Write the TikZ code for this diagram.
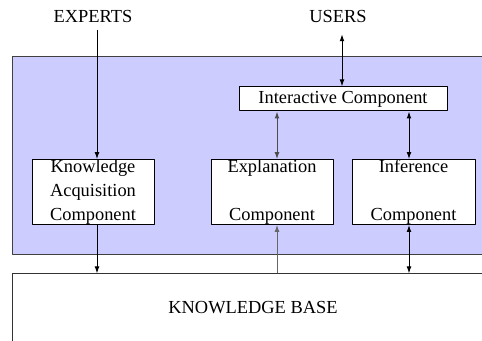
\documentclass[tikz,border=0pt]{standalone}
\usepackage{fontspec}
\setmainfont{Liberation Serif}
\usetikzlibrary{arrows.meta}
\definecolor{panelblue}{RGB}{204,204,255}
\begin{document}
\begin{tikzpicture}[x=.5pt, y=-.5pt, line join=round,
	font=\fontsize{9.2}{12}\selectfont,
	>={Latex[length=3.5pt,width=2.4pt]},
	comp/.style={draw=black, fill=white, line width=.5pt, align=center,
		minimum width=61pt, minimum height=32pt, inner sep=0pt},
	link/.style={line width=.5pt}]
	%% Khung
	\useasboundingbox (0,0) rectangle (482,341);
	\clip (0,0) rectangle (482,341);
	%% Vùng hệ chuyên gia
	\draw [fill=panelblue, draw=black!75, line width=.5pt] (12,57) rectangle (520,255);
	%% Các khối
	\node [draw=black!80, fill=white, line width=.5pt, minimum width=241pt,
		minimum height=34pt, inner sep=0pt] (kb) at (253,308) {KNOWLEDGE BASE};
	\node (experts) at (93,17) {EXPERTS};
	\node (users) at (338,17) {USERS};
	\node [comp, minimum width=104pt, minimum height=12pt] (iface) at (343,99) {Interactive Component};
	\node [comp] (acq) at (93,192) {Knowledge\\Acquisition\\Component};
	\node [comp] (expl) at (272,192) {Explanation\\[12pt]Component};
	\node [comp, minimum width=61.5pt] (infer) at (413.5,192) {Inference\\[12pt]Component};
	%% Các cột mũi tên
	\coordinate (c1) at (97,0);
	\coordinate (c2) at (342,0);
	\coordinate (c3) at (277,0);
	\coordinate (c4) at (409,0);
	%% Vẽ mũi tên
	\draw [link, ->] (experts.south -| c1) -- (acq.north -| c1);
	\draw [link, <->] ([yshift=-2pt]users.south -| c2) -- (iface.north -| c2);
	\draw [link, <->, black!70] (iface.south -| c3) -- (expl.north -| c3);
	\draw [link, <->] (iface.south -| c4) -- (infer.north -| c4);
	\draw [link, ->] (acq.south -| c1) -- (kb.north -| c1);
	\draw [link, ->, black!60] (kb.north -| c3) -- (expl.south -| c3);
	\draw [link, <->] (infer.south -| c4) -- (kb.north -| c4);
\end{tikzpicture}
\end{document}
